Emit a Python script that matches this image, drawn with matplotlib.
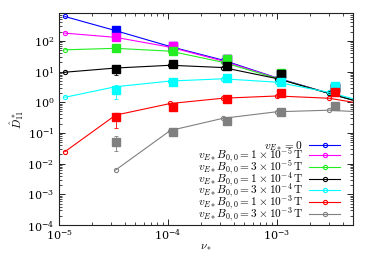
import numpy as np
import matplotlib
matplotlib.use("Agg")
import matplotlib.pyplot as plt
from matplotlib.ticker import LogLocator, NullFormatter

plt.rcParams['mathtext.fontset'] = 'cm'
plt.rcParams['font.family'] = ['DejaVu Serif']

# collisionality values: lines (circles) and simulation points (squares)
nu_line = [1.13e-5, 3.3e-5, 1.05e-4, 3.2e-4, 1.0e-3, 3.0e-3, 5.0e-3]
nu_sq = [3.3e-5, 1.1e-4, 3.45e-4, 1.1e-3, 3.4e-3]

labels = [r'$v_{E*}=0$',
          r'$v_{E*}B_{0,0}=1\times10^{-5}\,\mathrm{T}$',
          r'$v_{E*}B_{0,0}=3\times10^{-5}\,\mathrm{T}$',
          r'$v_{E*}B_{0,0}=1\times10^{-4}\,\mathrm{T}$',
          r'$v_{E*}B_{0,0}=3\times10^{-4}\,\mathrm{T}$',
          r'$v_{E*}B_{0,0}=1\times10^{-3}\,\mathrm{T}$',
          r'$v_{E*}B_{0,0}=3\times10^{-3}\,\mathrm{T}$']
colors = ['#0000ff', '#ff00ff', '#22ee22', '#000000', '#00ffff', '#ff0000', '#808080']

d_line = [
    [620, 215, 65, 23.5, 6.2, 1.95, 1.17],
    [178, 130, 62, 22, 6.1, 1.95, 1.17],
    [51, 57, 46, 20, 6.0, 1.95, 1.17],
    [9.5, 13, 16, 13.5, 5.9, 1.95, 1.17],
    [1.45, 3.2, 4.9, 5.8, 4.5, 2.1, 1.3],
    [0.0245, 0.38, 0.91, 1.35, 1.6, 1.35, 1.0],
    [np.nan, 0.0062, 0.12, 0.30, 0.49, 0.55, 0.5],
]

d_sq = [
    [224, 70, 25, 8.6, 3.0],
    [138, 68, 25, 8.6, 3.1],
    [60, 45, 25, 8.8, 3.2],
    [12.5, 17.5, 15.5, 8.4, 2.9],
    [2.5, 4.5, 6.0, 4.6, 3.4],
    [0.32, 0.68, 1.25, 1.95, 2.2],
    [0.05, 0.11, 0.25, 0.49, 0.75],
]
sq_lo = [
    [200, 65, 23, 8.0, 2.8],
    [105, 62, 23, 8.0, 2.9],
    [52, 40, 23, 8.2, 3.0],
    [7.8, 15, 14, 7.9, 2.7],
    [1.3, 4.0, 5.6, 4.3, 3.2],
    [0.15, 0.5, 1.15, 1.8, 2.05],
    [0.025, 0.08, 0.23, 0.46, 0.7],
]
sq_hi = [
    [240, 75, 27, 9.2, 3.2],
    [150, 74, 27, 9.2, 3.3],
    [66, 50, 27, 9.4, 3.4],
    [14, 19, 17, 8.9, 3.1],
    [2.8, 5.0, 6.4, 4.9, 3.6],
    [0.45, 0.8, 1.35, 2.1, 2.35],
    [0.08, 0.13, 0.27, 0.52, 0.8],
]

fig = plt.figure(figsize=(3.74, 2.62), dpi=100)
ax = fig.add_axes([0.158, 0.141, 0.786, 0.809])

for i in range(len(labels)):
    c = colors[i]
    ax.plot(nu_line, d_line[i], '-o', color=c, lw=0.8, ms=3, mfc='none',
            mew=0.8, markevery=slice(0, 6), label=labels[i])
    y = np.array(d_sq[i])
    err = [y - np.array(sq_lo[i]), np.array(sq_hi[i]) - y]
    ax.errorbar(nu_sq, y, yerr=err, fmt='s', color=c, ms=5.5, elinewidth=0.6,
                capsize=1.5, capthick=0.6)

ax.set_xscale('log')
ax.set_yscale('log')
ax.set_xlim(1e-5, 5e-3)
ax.set_ylim(1e-4, 8e2)

ax.xaxis.set_minor_locator(LogLocator(subs=np.arange(2, 10), numticks=20))
ax.yaxis.set_minor_locator(LogLocator(subs=np.arange(2, 10), numticks=20))
ax.xaxis.set_minor_formatter(NullFormatter())
ax.yaxis.set_minor_formatter(NullFormatter())
ax.tick_params(which='both', direction='in', top=True, right=True, labelsize=8)
ax.tick_params(which='major', length=4, width=0.6)
ax.tick_params(which='minor', length=2, width=0.5)
ax.tick_params(axis='x', pad=2)
for s in ax.spines.values():
    s.set_linewidth(0.8)
    s.set_color('#222222')

ax.set_xlabel(r'$\nu_*$', fontsize=8, labelpad=0)
ax.set_ylabel(r'$\hat{D}^*_{11}$', fontsize=8, labelpad=1)

ax.legend(loc='lower right', bbox_to_anchor=(0.965, -0.005), frameon=False,
          markerfirst=False, fontsize=8.2, handlelength=2.8,
          labelspacing=-0.56, borderaxespad=0, handletextpad=0.5,
          borderpad=0.2)

fig.savefig('out.png', dpi=100)
